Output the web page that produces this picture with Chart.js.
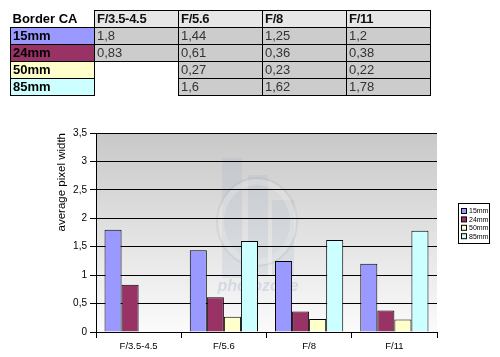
<!DOCTYPE html>
<html>
<head>
<meta charset="utf-8">
<script src="https://cdn.jsdelivr.net/npm/chart.js@4.4.1/dist/chart.umd.min.js"></script>
<style>
  html, body { margin: 0; padding: 0; background: #fff; width: 500px; height: 357px; overflow: hidden; }
  #wrap { position: relative; width: 500px; height: 357px; }
  canvas { position: absolute; left: 0; top: 0; }
  table { position: absolute; left: 10px; top: 10px; border-collapse: collapse; table-layout: fixed;
          font-family: "Liberation Sans", Arial, sans-serif; font-size: 13px; z-index: 2; }
  td { width: 84px; height: 16px; padding: 0 2px; line-height: 16px; white-space: nowrap; overflow: hidden; box-sizing: border-box; }
  td.hd { background: #e6e6e6; border: 1px solid #000; font-weight: bold; color: #111; letter-spacing: -0.3px; }
  td.corner { font-weight: bold; color: #000; border: none; }
  td.lab { font-weight: bold; color: #000; border: 1px solid #000; }
  td.val { background: #cccccc; border: 1px solid #000; color: #333; }
  td.empty { background: #fff; border: none; }
</style>
</head>
<body>
<div id="wrap">
  <canvas id="c" width="500" height="357"></canvas>
  <table id="tbl"></table>
</div>
<script>
const tableTitle = "Border CA";
const categories = ["F/3.5-4.5", "F/5.6", "F/8", "F/11"];
const seriesNames = ["15mm", "24mm", "50mm", "85mm"];
const values15 = [1.8, 1.44, 1.25, 1.2];
const values24 = [0.83, 0.61, 0.36, 0.38];
const values50 = [null, 0.27, 0.23, 0.22];
const values85 = [null, 1.6, 1.62, 1.78];
const seriesColors = ["#9999ff", "#993366", "#ffffcc", "#ccffff"];
const yTicks = [0, 0.5, 1, 1.5, 2, 2.5, 3, 3.5];
const yTitle = "average pixel width";

const allValues = [values15, values24, values50, values85];
const fmt = v => String(v).replace('.', ',');

const tbl = document.getElementById('tbl');
let html = '<tr><td class="corner">' + tableTitle + '</td>';
categories.forEach(c => html += '<td class="hd">' + c + '</td>');
html += '</tr>';
seriesNames.forEach((s, i) => {
  html += '<tr><td class="lab" style="background:' + seriesColors[i] + '">' + s + '</td>';
  allValues[i].forEach(v => {
    html += v === null ? '<td class="empty"></td>' : '<td class="val">' + fmt(v) + '</td>';
  });
  html += '</tr>';
});
tbl.innerHTML = html;

const bgPlugin = {
  id: 'bg',
  beforeDraw(chart) {
    const { ctx, chartArea: a } = chart;
    ctx.save();
    const g = ctx.createLinearGradient(0, a.top, 0, a.bottom);
    g.addColorStop(0, '#c8c8c8');
    g.addColorStop(1, '#fbfbfb');
    ctx.fillStyle = g;
    ctx.fillRect(a.left, a.top, a.right - a.left, a.bottom - a.top);
    ctx.fillStyle = 'rgba(150,170,200,0.18)';
    ctx.fillRect(222, 158, 20, 120);
    ctx.fillRect(248, 175, 20, 100);
    ctx.fillRect(272, 200, 22, 75);
    ctx.strokeStyle = 'rgba(235,235,235,0.35)';
    ctx.lineWidth = 6;
    ctx.beginPath();
    ctx.ellipse(257, 222, 36, 40, 0, 0, Math.PI * 2);
    ctx.stroke();
    ctx.strokeStyle = 'rgba(160,160,160,0.18)';
    ctx.lineWidth = 2;
    ctx.beginPath();
    ctx.ellipse(257, 222, 40, 44, 0, 0, Math.PI * 2);
    ctx.stroke();
    ctx.fillStyle = 'rgba(150,170,200,0.3)';
    ctx.font = 'italic bold 16px "Liberation Sans", Arial, sans-serif';
    ctx.textAlign = 'center';
    ctx.textBaseline = 'middle';
    ctx.fillText('photozone', 258, 287);
    ctx.restore();
  }
};

const legendPlugin = {
  id: 'boxLegend',
  afterDraw(chart) {
    const { ctx } = chart;
    const x0 = 458, y0 = 203, w = 31, h = 40;
    ctx.save();
    ctx.fillStyle = '#fff';
    ctx.fillRect(x0, y0, w, h);
    ctx.strokeStyle = '#000';
    ctx.lineWidth = 1;
    ctx.strokeRect(x0 + 0.5, y0 + 0.5, w, h);
    ctx.font = '7px "Liberation Sans", Arial, sans-serif';
    ctx.textBaseline = 'middle';
    ctx.textAlign = 'left';
    chart.data.datasets.forEach((ds, i) => {
      const cy = y0 + 8 + i * 8.4;
      ctx.fillStyle = ds.backgroundColor;
      ctx.fillRect(x0 + 3.5, cy - 2.5, 5, 5);
      ctx.strokeStyle = '#000';
      ctx.strokeRect(x0 + 3.5, cy - 2.5, 5, 5);
      ctx.fillStyle = '#000';
      ctx.fillText(ds.label, x0 + 11, cy + 0.5);
    });
    ctx.restore();
  }
};

new Chart(document.getElementById('c'), {
  type: 'bar',
  data: {
    labels: categories,
    datasets: seriesNames.map((s, i) => ({
      label: s,
      data: allValues[i],
      backgroundColor: seriesColors[i],
      borderColor: '#000',
      borderWidth: 1,
      categoryPercentage: 0.8,
      barPercentage: 1.0
    }))
  },
  options: {
    responsive: false,
    animation: false,
    devicePixelRatio: 1,
    layout: { padding: { top: 133, left: 50, right: 63, bottom: 0 } },
    plugins: { legend: { display: false }, tooltip: { enabled: false } },
    scales: {
      x: {
        grid: { drawOnChartArea: false, offset: true, tickLength: 6, color: '#000' },
        border: { color: '#000' },
        ticks: { color: '#000', padding: 3, font: { family: '"Liberation Sans", Arial, sans-serif', size: 9.5 } },
        afterFit(s) { s.height = 25; }
      },
      y: {
        min: 0, max: 3.5,
        afterBuildTicks(s) { s.ticks = yTicks.map(v => ({ value: v })); },
        ticks: {
          color: '#000', padding: 3,
          font: { family: '"Liberation Sans", Arial, sans-serif', size: 10 },
          callback: v => fmt(v)
        },
        grid: { color: '#000', tickLength: 6, lineWidth: 1 },
        border: { color: '#000' },
        title: {
          display: true, text: yTitle, align: 'end', color: '#000',
          font: { family: '"Liberation Sans", Arial, sans-serif', size: 11.5 },
          padding: { top: 5, bottom: 0 }
        },
        afterFit(s) { s.width = 46; }
      }
    }
  },
  plugins: [bgPlugin, legendPlugin]
});
</script>
</body>
</html>
